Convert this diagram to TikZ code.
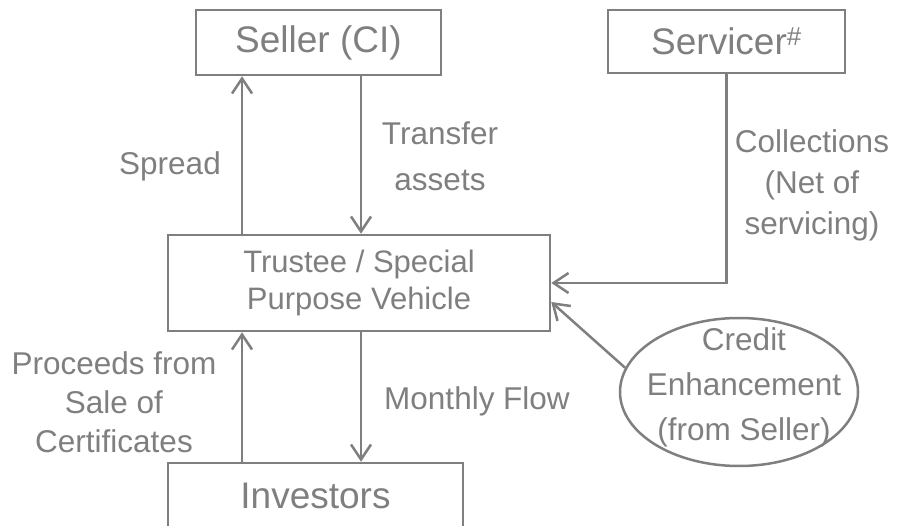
\documentclass[tikz,border=0pt]{standalone}
\usepackage{fontspec}
\setmainfont{Liberation Sans}
\usetikzlibrary{arrows.meta,shapes.geometric}
\definecolor{gr}{RGB}{127,127,127}
\begin{document}
\begin{tikzpicture}[x=1pt,y=-1pt,
  box/.style={draw=gr, line width=2.5pt, inner sep=0pt, text=gr, font=\fontsize{37}{44}\selectfont},
  lbl/.style={text=gr, align=center, inner sep=0pt, font=\fontsize{31.5}{45}\selectfont},
  arr/.style={draw=gr, line width=2.5pt, -{Straight Barb[length=15pt,width=20pt]}}]
\clip (0,0) rectangle (897,526);
\node[box, minimum width=245pt, minimum height=65pt] (seller) at (318.5,42.5) {Seller (CI)};
\node[box, minimum width=237pt, minimum height=63pt] (servicer) at (726.5,41.5) {Servicer\textsuperscript{\#}};
\node[box, font=\fontsize{31}{37}\selectfont, align=center, minimum width=382pt, minimum height=96pt] (spv) at (359,283) {Trustee / Special\\Purpose Vehicle};
\node[box, minimum width=295pt, minimum height=66pt] (inv) at (315.5,496) {Investors};
\node[draw=gr, line width=2.5pt, ellipse, minimum width=238pt, minimum height=148pt, inner sep=0pt] (ce) at (739,392) {};
\node[lbl] (cet) at (744,387) {Credit\\Enhancement\\(from Seller)};
\node[lbl] (spread) at (170,166) {Spread};
\node[lbl, font=\fontsize{31.5}{46}\selectfont] (transfer) at (440,156) {Transfer\\assets};
\node[lbl, font=\fontsize{31.5}{41}\selectfont] (coll) at (812,185) {Collections\\(Net of\\servicing)};
\node[lbl, font=\fontsize{31.5}{39}\selectfont] (proc) at (114,402.5) {Proceeds from\\Sale of\\Certificates};
\node[lbl] (mf) at (477,401) {Monthly Flow};
\coordinate (xl) at (242,0);
\coordinate (xr) at (361,0);
\coordinate (cey) at (0,302);
\draw[arr] (spv.north -| xl) -- (seller.south -| xl);
\draw[arr] (seller.south -| xr) -- (spv.north -| xr);
\draw[arr] (servicer.south) |- (spv.east);
\draw[arr] (ce.168) -- (spv.east |- cey);
\draw[arr] (inv.north -| xl) -- (spv.south -| xl);
\draw[arr] (spv.south -| xr) -- (inv.north -| xr);
\end{tikzpicture}
\end{document}
